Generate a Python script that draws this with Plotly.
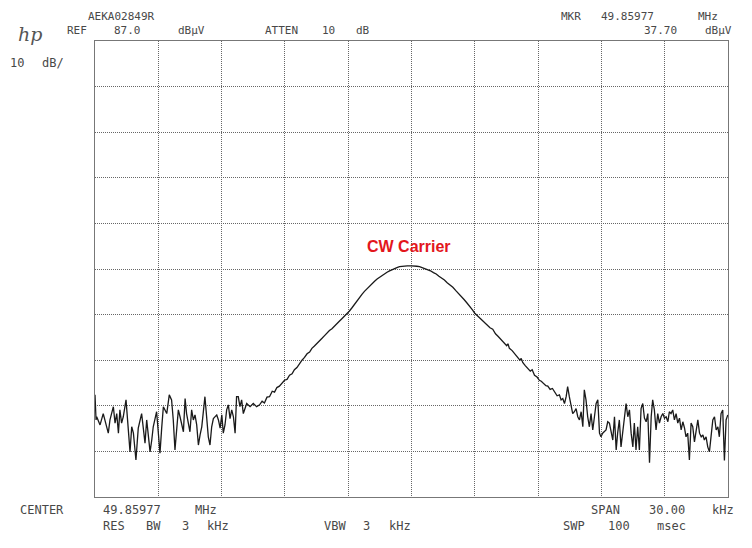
import plotly.graph_objects as go

# Spectrum analyzer screen: HP, CW carrier at centre, 10 dB/div, span 30 kHz
center_mhz = 49.85977
span_khz = 30.0
ref_level = 87.0      # dBuV, top of screen
db_per_div = 10.0
marker_khz = 0.0
marker_level = 37.70

# trace: offset from centre (kHz) and level (dBuV)
freq_khz = [
    -15.00, -14.95, -14.92, -14.76, -14.61, -14.45, -14.37, -14.29, -14.13, -14.05,
    -13.97, -13.89, -13.82, -13.74, -13.66, -13.53, -13.42, -13.34, -13.26, -13.18,
    -13.06, -12.95, -12.79, -12.71, -12.63, -12.55, -12.47, -12.39, -12.31, -12.24,
    -12.08, -12.00, -11.92, -11.84, -11.76, -11.60, -11.48, -11.37, -11.29, -11.21,
    -11.13, -11.05, -10.97, -10.81, -10.73, -10.66, -10.50, -10.42, -10.34, -10.26,
    -10.18, -10.10, -10.02, -9.94, -9.79, -9.71, -9.63, -9.55, -9.47, -9.39,
    -9.23, -9.15, -9.07, -8.99, -8.92, -8.84, -8.76, -8.68, -8.60, -8.52,
    -8.44, -8.36, -8.29, -8.21, -8.13, -8.05, -7.97, -7.81, -7.65, -7.50,
    -7.34, -7.20, -7.08, -6.97, -6.85, -6.73, -6.60, -6.49, -6.38, -6.26,
    -6.14, -6.02, -5.90, -5.78, -5.66, -5.55, -5.43, -5.31, -5.19, -5.07,
    -4.95, -4.83, -4.72, -4.60, -4.48, -4.36, -4.24, -4.12, -4.00, -3.89,
    -3.77, -3.65, -3.53, -3.41, -3.30, -3.18, -3.06, -2.94, -2.82, -2.70,
    -2.58, -2.46, -2.34, -2.23, -2.11, -1.99, -1.87, -1.75, -1.63, -1.52,
    -1.40, -1.28, -1.16, -1.04, -0.92, -0.81, -0.69, -0.57, -0.45, -0.33,
    -0.20, 0.00, 0.13, 0.25, 0.38, 0.51, 0.64, 0.77, 0.90, 1.04,
    1.17, 1.30, 1.43, 1.56, 1.69, 1.83, 1.96, 2.09, 2.22, 2.36,
    2.49, 2.62, 2.75, 2.88, 3.00, 3.07, 3.20, 3.33, 3.46, 3.59,
    3.72, 3.85, 3.98, 4.11, 4.25, 4.38, 4.51, 4.57, 4.64, 4.77,
    4.88, 5.01, 5.14, 5.20, 5.27, 5.39, 5.51, 5.63, 5.72, 5.83,
    5.95, 6.06, 6.15, 6.27, 6.37, 6.46, 6.57, 6.68, 6.78, 6.90,
    7.01, 7.09, 7.17, 7.25, 7.33, 7.40, 7.48, 7.56, 7.64, 7.72,
    7.80, 7.88, 7.96, 8.04, 8.12, 8.19, 8.27, 8.35, 8.43, 8.51,
    8.59, 8.67, 8.75, 8.83, 8.91, 8.98, 9.06, 9.22, 9.30, 9.38,
    9.46, 9.54, 9.62, 9.70, 9.77, 9.85, 9.93, 10.01, 10.09, 10.17,
    10.25, 10.33, 10.41, 10.49, 10.56, 10.64, 10.72, 10.80, 10.88, 10.96,
    11.04, 11.12, 11.20, 11.28, 11.36, 11.43, 11.51, 11.59, 11.67, 11.75,
    11.83, 11.91, 11.99, 12.07, 12.15, 12.22, 12.30, 12.38, 12.46, 12.54,
    12.62, 12.70, 12.78, 12.86, 12.94, 13.01, 13.09, 13.17, 13.25, 13.33,
    13.41, 13.49, 13.57, 13.65, 13.73, 13.81, 13.88, 13.96, 14.04, 14.12,
    14.20, 14.28, 14.36, 14.44, 14.52, 14.59, 14.67, 14.75, 14.83, 14.91,
    14.99,
]
level_dbuv = [
    9.4, 3.9, 4.6, 2.8, 5.3, 2.4, 1.0, 3.9, 6.8, 3.2,
    5.3, 1.0, 6.1, 3.2, 4.6, 8.3, 0.2, -3.1, 2.4, 1.0,
    -4.9, 2.1, 5.3, 1.7, -1.2, 3.9, 0.2, -3.1, -0.5, 2.4,
    5.7, 0.2, -3.4, 2.1, 6.8, 5.3, 9.4, 8.3, 3.9, -2.7,
    2.4, 6.1, 4.6, 1.3, 8.6, 5.3, 1.3, 6.1, 3.9, 5.0,
    2.8, -1.6, 0.6, 2.4, 9.0, 4.6, 0.2, -1.6, 2.4, 4.2,
    5.0, 3.9, 2.1, 5.0, 1.0, 2.8, 6.1, 7.2, 4.2, 6.1,
    4.6, 1.0, 9.0, 9.0, 6.8, 8.3, 5.3, 7.5, 6.8, 7.5,
    6.8, 7.2, 8.0, 7.6, 8.9, 9.0, 10.2, 10.0, 11.0, 11.3,
    11.9, 12.6, 12.8, 13.7, 14.0, 14.9, 15.4, 16.3, 17.0, 17.6,
    18.4, 18.8, 19.6, 20.1, 20.6, 21.3, 21.8, 22.4, 23.0, 23.5,
    23.9, 24.4, 25.0, 25.6, 26.1, 26.6, 27.1, 27.8, 28.5, 29.3,
    30.0, 30.8, 31.5, 32.1, 32.7, 33.3, 33.8, 34.3, 34.8, 35.2,
    35.6, 36.0, 36.3, 36.6, 36.9, 37.1, 37.3, 37.5, 37.6, 37.7,
    37.7, 37.7, 37.7, 37.6, 37.5, 37.3, 37.1, 36.9, 36.6, 36.2,
    35.9, 35.4, 35.0, 34.6, 34.0, 33.5, 33.0, 32.3, 31.7, 31.0,
    30.3, 29.6, 28.9, 28.1, 27.3, 27.0, 26.4, 25.8, 25.2, 24.6,
    24.1, 23.8, 22.8, 22.2, 21.5, 21.0, 20.2, 20.6, 19.6, 19.1,
    18.4, 17.8, 17.0, 17.4, 16.5, 15.8, 15.3, 14.6, 14.9, 13.7,
    13.3, 12.6, 12.4, 11.8, 11.4, 11.3, 10.6, 10.8, 10.0, 9.2,
    9.4, 8.3, 8.6, 7.5, 9.0, 11.2, 9.0, 6.8, 5.3, 5.7,
    6.4, 4.6, 3.9, 5.7, 2.4, 10.5, 8.3, 4.6, 2.4, 5.3,
    1.7, 4.6, 7.5, 8.3, 1.0, 0.2, 1.0, 1.7, 3.5, 3.2,
    1.0, -0.5, 4.6, -2.7, 1.0, 3.9, -2.0, 1.7, 5.3, 7.5,
    4.6, 6.1, 1.0, -2.0, 3.2, -2.7, 2.4, -2.7, 6.4, 7.5,
    4.3, 3.5, 5.3, -5.5, 4.6, 8.3, 6.1, 1.7, 5.3, 3.2,
    4.6, 5.3, 4.3, 4.6, 3.5, 5.7, 5.3, 6.1, 3.9, 5.3,
    3.2, 4.3, 1.7, 3.5, 2.1, 0.2, 1.0, -4.9, 3.2, 2.4,
    -0.9, 1.7, 3.9, 1.0, 0.2, 0.6, -0.5, 0.2, -2.0, -3.1,
    1.0, 3.9, 4.6, 1.7, 2.4, 0.2, 5.3, 6.1, -5.0, 3.9,
    5.0,
]

# screen annotation words (text, centre pixel column, centre pixel row, size)
header_words = [
    ("AEKA02849R", 121, 16, 11), ("MKR", 571, 16, 11), ("49.85977", 627, 16, 11),
    ("MHz", 708, 16, 11),
    ("REF", 77, 30.5, 11), ("87.0", 127, 30.5, 11), ("dBμV", 191, 30.5, 11),
    ("ATTEN", 281, 30.5, 11), ("10", 328, 30.5, 11), ("dB", 363, 30.5, 11),
    ("37.70", 660, 30.5, 11), ("dBμV", 718, 30.5, 11),
    ("10", 17, 63, 12), ("dB/", 53, 63, 12),
    ("CENTER", 42, 510, 12), ("49.85977", 132, 510, 12), ("MHz", 206, 510, 12),
    ("SPAN", 605, 510, 12), ("30.00", 667, 510, 12), ("kHz", 723, 510, 12),
    ("RES", 114, 526, 12), ("BW", 153, 526, 12), ("3", 185, 526, 12), ("kHz", 218, 526, 12),
    ("VBW", 335, 526, 12), ("3", 366, 526, 12), ("kHz", 400, 526, 12),
    ("SWP", 574, 526, 12), ("100", 619, 526, 12), ("msec", 671, 526, 12),
]

# page offset of the plot div inside the browser window
OFF = 8
W, H = 752, 548
L, R, T, B = 95, 24, 41, 51


def paper_x(p):
    return (p - L) / (W - L - R)


def paper_y(p):
    return (H - B - p) / (H - T - B)


fig = go.Figure(go.Scatter(
    x=freq_khz, y=level_dbuv, mode='lines',
    line=dict(color='#1a1a1a', width=1.3),
    hoverinfo='skip',
))

annotations = []
for word, xc, yc, fs in header_words:
    annotations.append(dict(
        text=word, xref='paper', yref='paper',
        x=paper_x(xc), y=paper_y(yc), xanchor='center', yanchor='middle',
        showarrow=False,
        font=dict(family='DejaVu Sans Mono', size=fs, color='#484848'),
    ))

annotations.append(dict(
    text='hp', xref='paper', yref='paper',
    x=paper_x(16), y=paper_y(34), xanchor='left', yanchor='middle',
    showarrow=False,
    font=dict(family='DejaVu Serif', size=19, color='#555555', style='italic'),
))

annotations.append(dict(
    text='<b>CW Carrier</b>', x=marker_khz, y=marker_level,
    xanchor='center', yanchor='bottom', yshift=9, xshift=-3,
    showarrow=False,
    font=dict(family='Liberation Sans', size=16, color='#e3161c'),
))

div_lines = dict(showgrid=True, gridcolor='#666666', gridwidth=1, griddash='1px,1px',
                 zeroline=False, showticklabels=False, ticks='',
                 showline=True, linecolor='#777777', linewidth=1, mirror=True)

fig.update_layout(
    width=W - OFF, height=H - OFF,
    margin=dict(l=L - OFF, r=R, t=T - OFF, b=B),
    paper_bgcolor='white', plot_bgcolor='white',
    showlegend=False,
    xaxis=dict(range=[-span_khz / 2, span_khz / 2], tick0=-span_khz / 2,
               dtick=span_khz / 10, **div_lines),
    yaxis=dict(range=[ref_level - 10 * db_per_div, ref_level],
               tick0=ref_level - 10 * db_per_div, dtick=db_per_div, **div_lines),
    annotations=annotations,
)

fig.write_html("out.html")
